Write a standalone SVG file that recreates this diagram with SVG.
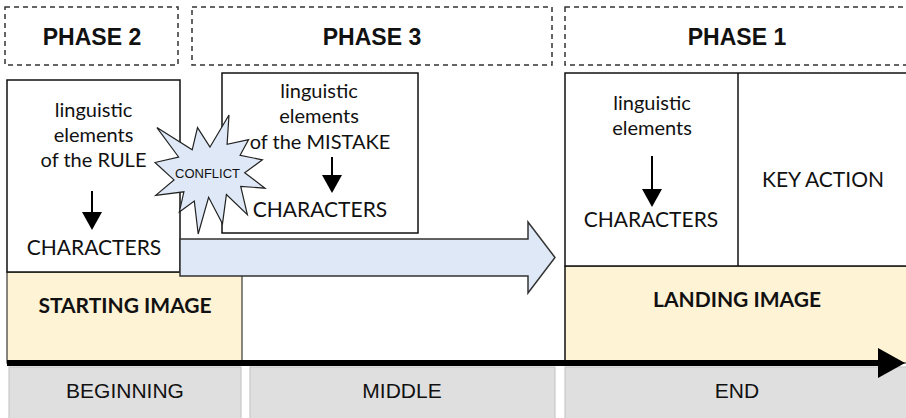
<svg xmlns="http://www.w3.org/2000/svg" width="906" height="418" viewBox="0 0 906 418">
<style>
.dash{fill:none;stroke:#333;stroke-width:1.5;stroke-dasharray:5 4}
.phase{font-family:"Liberation Sans",Arial,sans-serif;font-weight:bold;font-size:23px;fill:#111;text-anchor:middle}
.box{fill:#fff;stroke:#111;stroke-width:1.5}
.img{fill:#FFF3D6;stroke:#111;stroke-width:1}
.bot{fill:#E0DFE0;stroke:#C8C8C8;stroke-width:1.2}
.t{font-family:Lato,"Open Sans",sans-serif;font-size:20px;fill:#111;text-anchor:middle}
.tc{font-family:Lato,"Open Sans",sans-serif;font-size:21px;fill:#111;text-anchor:middle}
.tb{font-family:Lato,"Open Sans",sans-serif;font-weight:bold;font-size:21px;fill:#111;text-anchor:middle}
.ta{font-family:"Liberation Sans",Arial,sans-serif;font-size:21px;fill:#111;text-anchor:middle}
.arr{stroke:#000;stroke-width:2;fill:none}
</style>
<defs>
<marker id="head" viewBox="0 0 18 20" refX="16" refY="10" markerWidth="18" markerHeight="20" markerUnits="userSpaceOnUse" orient="auto">
<path d="M0,0 L18,10 L0,20 z" fill="#000"/>
</marker>
</defs>

<g id="phase2-header"><rect class="dash" x="5" y="7" width="173" height="58"/><text class="phase" x="92" y="45">PHASE 2</text></g>
<g id="phase3-header"><rect class="dash" x="192" y="7" width="360" height="58"/><text class="phase" x="372" y="45">PHASE 3</text></g>
<g id="phase1-header"><rect class="dash" x="565" y="7" width="345" height="58"/><text class="phase" x="737" y="45">PHASE 1</text></g>

<g id="starting-image"><rect class="img" x="7" y="272" width="235" height="91"/><text class="tb" x="125" y="313">STARTING IMAGE</text></g>
<g id="landing-image"><rect class="img" x="565" y="266" width="345" height="97"/><text class="tb" x="737" y="307">LANDING IMAGE</text></g>

<g id="beginning"><rect class="bot" x="9" y="367" width="232" height="52"/><text class="ta" x="125" y="398">BEGINNING</text></g>
<g id="middle"><rect class="bot" x="250" y="367" width="305" height="52"/><text class="ta" x="402" y="398">MIDDLE</text></g>
<g id="end"><rect class="bot" x="565" y="367" width="345" height="52"/><text class="ta" x="737" y="398">END</text></g>

<g id="rule-box">
<rect class="box" x="7" y="80" width="173" height="192"/>
<text class="t" x="93.5" y="117">linguistic</text>
<text class="t" x="93.5" y="142">elements</text>
<text class="t" x="93.5" y="167">of the RULE</text>
<line class="arr" x1="92" y1="191" x2="92" y2="228" marker-end="url(#head)"/>
<text class="tc" x="94" y="255">CHARACTERS</text>
</g>

<g id="mistake-box">
<rect class="box" x="222" y="73" width="196" height="160"/>
<text class="t" x="319" y="98">linguistic</text>
<text class="t" x="319" y="123">elements</text>
<text class="t" x="320" y="149">of the MISTAKE</text>
<line class="arr" x1="332" y1="157" x2="332" y2="191" marker-end="url(#head)"/>
<text class="tc" x="320" y="217">CHARACTERS</text>
</g>

<g id="phase1-box">
<rect class="box" x="565" y="73" width="345" height="193"/>
<line x1="738" y1="73" x2="738" y2="266" stroke="#111" stroke-width="1.5"/>
<text class="t" x="652" y="110">linguistic</text>
<text class="t" x="652" y="135">elements</text>
<line class="arr" x1="652" y1="156" x2="652" y2="205" marker-end="url(#head)"/>
<text class="tc" x="651" y="227">CHARACTERS</text>
<text class="tc" x="823" y="187">KEY ACTION</text>
</g>

<g id="connectors">
<line x1="565" y1="266" x2="565" y2="363" stroke="#111" stroke-width="1"/>
<path d="M180,239 H528 V222 L555,257.5 L528,293 V276 H180 Z" fill="#DEE8F6" stroke="#333" stroke-width="1.5"/>
<line x1="7" y1="363" x2="882" y2="363" stroke="#000" stroke-width="6"/>
<path d="M878,348 L905,363 L878,378 Z" fill="#000"/>
</g>

<g id="conflict">
<polygon points="210.0,147.0 229.0,115.0 227.1,144.3 248.6,139.6 240.1,155.3 262.4,159.8 244.7,172.7 265,188.2 240.7,186.3 247.4,214.7 226.4,194.6 222.5,223.7 208.6,197.3 198.2,234 194.3,201.1 179.3,212.1 183.9,191.8 155.7,195.4 174.0,179.9 155,162.5 178.6,157.0 156.9,127.6 192.2,149.8 197.5,127.6" fill="#DEE8F6" stroke="#222" stroke-width="1.2"/>
<text x="207.5" y="178" font-family="Liberation Sans,Arial,sans-serif" font-size="13" fill="#111" text-anchor="middle">CONFLICT</text>
</g>
</svg>
